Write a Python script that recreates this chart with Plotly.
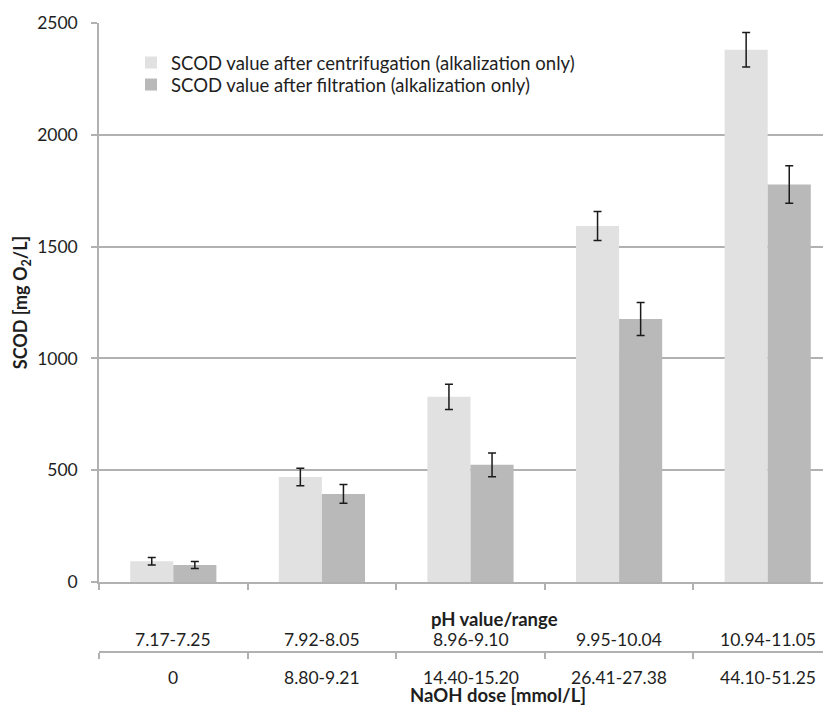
import plotly.graph_objects as go

# ---- data ----
cat_index = [0, 1, 2, 3, 4]
ph_labels = ["7.17-7.25", "7.92-8.05", "8.96-9.10", "9.95-10.04", "10.94-11.05"]
naoh_labels = ["0", "8.80-9.21", "14.40-15.20", "26.41-27.38", "44.10-51.25"]
scod_centrifugation = [93, 470, 828, 1592, 2380]
scod_centrifugation_err = [17, 39, 56, 65, 77]
scod_filtration = [76, 394, 524, 1176, 1778]
scod_filtration_err = [16, 42, 53, 74, 84]
y_ticks = [0, 500, 1000, 1500, 2000, 2500]

# ---- style ----
W, H = 831, 705
OFF = 8            # page body margin in the browser
FONT = "Lato"
FS = 17.5
FS_LEG = 18.5
FS_TITLE = 18.5
TXT = "#1e1e1e"
GRID = "#b1b1b1"
LIGHT = "#e1e1e1"
DARK = "#b9b9b9"
ERR = "#1a1a1a"

# targets are expressed in screen pixels
PLOT_LEFT, PLOT_TOP, PLOT_BOTTOM, PLOT_RIGHT = 99, 23, 582, 831
M_L = PLOT_LEFT - OFF
M_T = PLOT_TOP - OFF
M_R = W - (PLOT_RIGHT - OFF)
paper_h = H - M_T
paper_w = W - M_L - M_R


def py(pix):
    """screen pixel row -> paper y"""
    return (H - (pix - OFF)) / paper_h


def px(pix):
    """screen pixel column -> paper x"""
    return (pix - OFF - M_L) / paper_w


fig = go.Figure()
fig.add_trace(go.Bar(
    x=cat_index, y=scod_centrifugation,
    name="SCOD value after centrifugation (alkalization only)",
    marker=dict(color=LIGHT, line=dict(width=0)),
    error_y=dict(type="data", array=scod_centrifugation_err, color=ERR,
                 thickness=1.5, width=4),
    legend="legend",
))
fig.add_trace(go.Bar(
    x=cat_index, y=scod_filtration,
    name="SCOD value after filtration (alkalization only)",
    marker=dict(color=DARK, line=dict(width=0)),
    error_y=dict(type="data", array=scod_filtration_err, color=ERR,
                 thickness=1.5, width=4),
    legend="legend2",
))
# invisible trace to carry the second (NaOH) category axis
fig.add_trace(go.Scatter(
    x=cat_index, y=[None] * len(cat_index), xaxis="x2", yaxis="y",
    mode="markers", marker=dict(opacity=0), showlegend=False, hoverinfo="skip",
))

boundaries = [i - 0.5 for i in cat_index]
x_range = [-0.5, 4.426]

axis_common = dict(
    range=x_range, showline=True, linecolor=GRID, linewidth=1.5,
    ticks="outside", tickmode="array", tickvals=boundaries, ticklen=6,
    tickcolor=GRID, tickwidth=1.5, showticklabels=False, showgrid=False,
    zeroline=False, fixedrange=True, automargin=False,
)

legend_common = dict(
    xanchor="left", yanchor="middle",
    bgcolor="rgba(0,0,0,0)", borderwidth=0,
    font=dict(family=FONT, size=FS_LEG, color=TXT),
    itemclick=False, itemdoubleclick=False,
)

fig.update_layout(
    width=W, height=H,
    margin=dict(l=M_L, r=M_R, t=M_T, b=0, pad=0, autoexpand=False),
    paper_bgcolor="white", plot_bgcolor="white",
    font=dict(family=FONT, size=FS, color=TXT),
    barmode="group", bargap=0.42, bargroupgap=0,
    showlegend=True,
    legend=dict(x=px(131), y=py(63), **legend_common),
    legend2=dict(x=px(131), y=py(85), **legend_common),
    xaxis=dict(anchor="y", **axis_common),
    xaxis2=dict(overlaying="x", anchor="free", position=py(652),
                matches="x", side="bottom", **axis_common),
    yaxis=dict(
        domain=[py(PLOT_BOTTOM), 1], range=[0, 2500],
        tickmode="array", tickvals=y_ticks,
        ticks="outside", ticklen=6, tickcolor=GRID, tickwidth=1.5,
        ticklabelstandoff=10,
        showline=True, linecolor=GRID, linewidth=1.5,
        showgrid=True, gridcolor=GRID, gridwidth=1.5,
        zeroline=False, fixedrange=True, automargin=False,
        tickfont=dict(family=FONT, size=FS, color=TXT),
        title=dict(text="<b>SCOD [mg O<sub>2</sub>/L]</b>",
                   font=dict(family=FONT, size=18, color=TXT), standoff=5),
    ),
)

annotations = []
for i, lab in zip(cat_index, ph_labels):
    annotations.append(dict(x=i, xref="x", y=py(639), yref="paper", text=lab,
                            showarrow=False, xanchor="center", yanchor="middle",
                            font=dict(family=FONT, size=FS, color=TXT)))
for i, lab in zip(cat_index, naoh_labels):
    annotations.append(dict(x=i, xref="x", y=py(677), yref="paper", text=lab,
                            showarrow=False, xanchor="center", yanchor="middle",
                            font=dict(family=FONT, size=FS, color=TXT)))
annotations.append(dict(x=px(494), xref="paper", y=py(619), yref="paper",
                        text="<b>pH value/range</b>", showarrow=False,
                        xanchor="center", yanchor="middle",
                        font=dict(family=FONT, size=FS_TITLE, color=TXT)))
annotations.append(dict(x=px(498), xref="paper", y=py(695), yref="paper",
                        text="<b>NaOH dose [mmol/L]</b>", showarrow=False,
                        xanchor="center", yanchor="middle",
                        font=dict(family=FONT, size=FS_TITLE, color=TXT)))
fig.update_layout(annotations=annotations)

fig.write_html("out.html")
